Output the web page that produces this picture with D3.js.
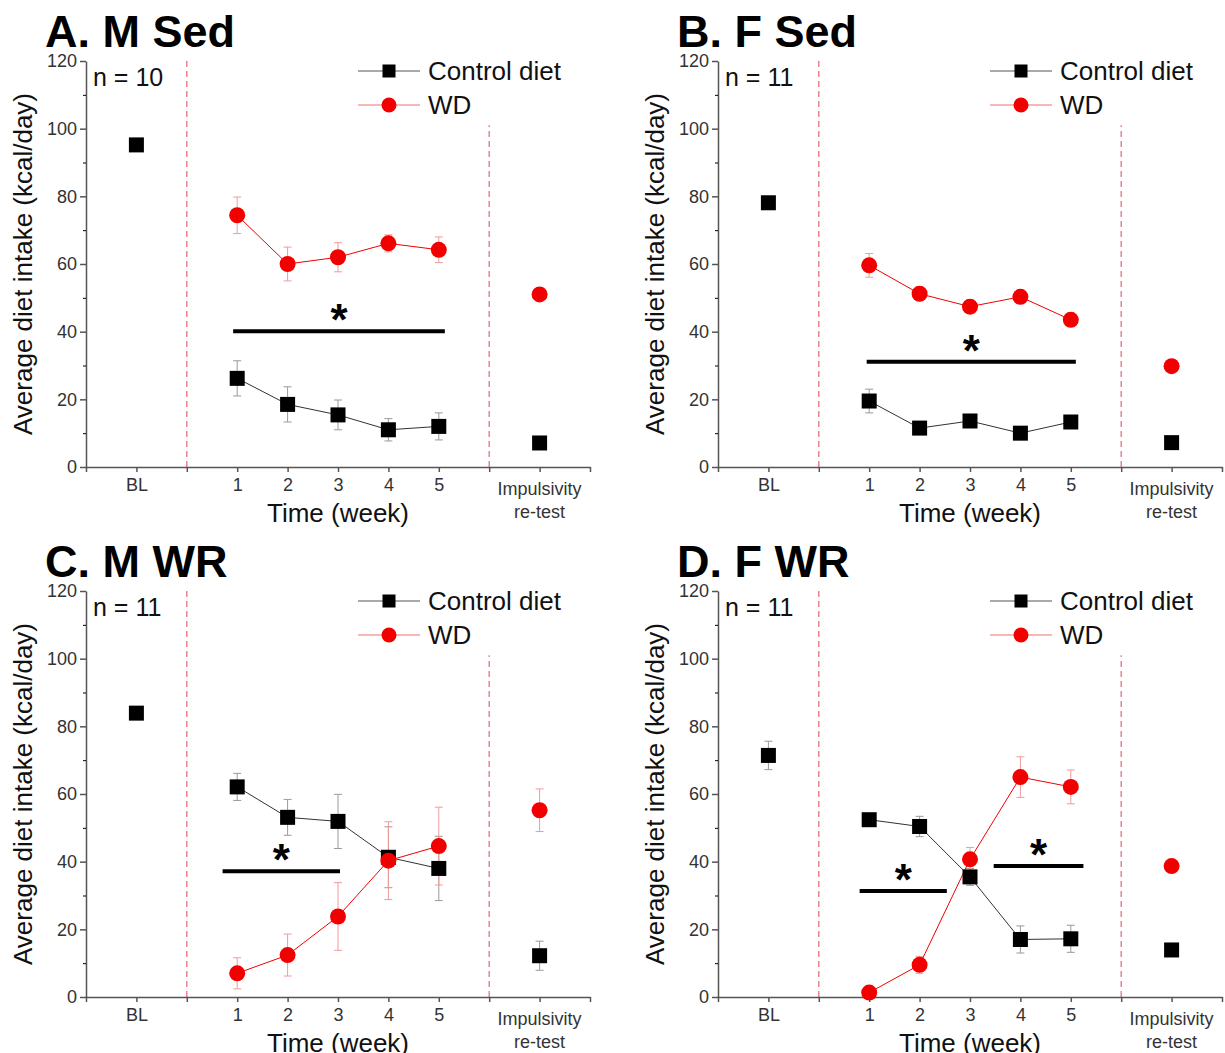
<!DOCTYPE html>
<html>
<head>
<meta charset="utf-8">
<title>Diet intake</title>
<script src="https://cdn.jsdelivr.net/npm/d3@7"></script>
<style>
  body { margin: 0; background: #fff; }
  text { font-family: "Liberation Sans", Arial, sans-serif; }
</style>
</head>
<body>
<script>
// panel titles and group sizes
var panelTitles = ["A. M Sed", "B. F Sed", "C. M WR", "D. F WR"];
var panelN = [10, 11, 11, 11];

// x positions: BL=-1, weeks 1..5, re-test=7
var weeks = [1, 2, 3, 4, 5];
var xTickLabels = {"-1": "BL", "1": "1", "2": "2", "3": "3", "4": "4", "5": "5"};
var retestLabel = ["Impulsivity", "re-test"];

// control diet
var ctrlBL = [95.2, 78.1, 83.9, 71.4];
var ctrlBLErr = [1.5, 1.2, 1.5, 4.2];
var ctrlWeeks = [
  [26.2, 18.5, 15.4, 11.0, 12.0],
  [19.5, 11.5, 13.6, 10.0, 13.3],
  [62.1, 53.1, 51.9, 41.3, 38.0],
  [52.4, 50.4, 35.5, 17.0, 17.2]
];
var ctrlWeeksErr = [
  [5.2, 5.2, 4.4, 3.3, 4.0],
  [3.5, 1.5, 1.5, 1.5, 1.5],
  [4.0, 5.3, 8.0, 9.0, 9.5],
  [1.5, 3.0, 2.5, 4.0, 4.0]
];
var ctrlRetest = [7.1, 7.2, 12.2, 13.9];
var ctrlRetestErr = [1.0, 1.0, 4.3, 1.0];

// western diet
var wdWeeks = [
  [74.4, 60.0, 62.0, 66.1, 64.2],
  [59.6, 51.2, 47.4, 50.3, 43.5],
  [7.0, 12.4, 23.8, 40.3, 44.6],
  [1.3, 9.5, 40.7, 65.0, 62.1]
];
var wdWeeksErr = [
  [5.4, 5.0, 4.3, 2.5, 3.8],
  [3.5, 2.0, 2.0, 2.0, 2.0],
  [4.6, 6.2, 10.0, 11.5, 11.5],
  [1.0, 2.5, 3.5, 6.0, 5.0]
];
var wdRetest = [51.0, 29.8, 55.2, 38.7];
var wdRetestErr = [1.5, 1.5, 6.3, 1.5];

// significance bars: [from, to, level]
var sigBars = [
  [[0.92, 5.12, 40.1]],
  [[0.95, 5.10, 31.1]],
  [[0.71, 3.04, 37.2]],
  [[0.81, 2.54, 31.3], [3.47, 5.25, 38.7]]
];

var w = 1225, h = 1053,
    plotW = 504, plotH = 406,
    origins = [[86, 61], [718, 61], [86, 591], [718, 591]];

var svg = d3.select("body").append("svg")
  .attr("width", w).attr("height", h)
  .style("background", "#fff");

var red = "#f20000", pink = "#e8707e";

function errBars(g, x, y, pts, color) {
  var eb = g.append("g").attr("stroke", color).attr("stroke-width", 1).attr("fill", "none");
  pts.forEach(function(p) {
    var x0 = x(p[0]), yt = y(p[1] + p[2]), yb = y(p[1] - p[2]);
    eb.append("line").attr("x1", x0).attr("x2", x0).attr("y1", yt).attr("y2", yb);
    eb.append("line").attr("x1", x0 - 4).attr("x2", x0 + 4).attr("y1", yt).attr("y2", yt);
    eb.append("line").attr("x1", x0 - 4).attr("x2", x0 + 4).attr("y1", yb).attr("y2", yb);
  });
}

function drawPanel(i) {
  var ox = origins[i][0], oy = origins[i][1];
  var x = d3.scaleLinear().domain([-2, 8]).range([ox, ox + plotW]);
  var y = d3.scaleLinear().domain([0, 120]).range([oy + plotH, oy]);
  var g = svg.append("g");

  // dashed separators
  g.append("line").attr("x1", x(0)).attr("x2", x(0)).attr("y1", y(0)).attr("y2", y(120))
    .attr("stroke", pink).attr("stroke-width", 1.3).attr("stroke-dasharray", "6,4");
  g.append("line").attr("x1", x(6)).attr("x2", x(6)).attr("y1", y(0)).attr("y2", y(101))
    .attr("stroke", pink).attr("stroke-width", 1.3).attr("stroke-dasharray", "6,4");

  // axes
  var yAx = g.append("g").attr("transform", "translate(" + ox + ",0)")
    .call(d3.axisLeft(y).tickValues(d3.range(0, 121, 20)).tickSize(6).tickSizeOuter(0).tickPadding(3));
  g.append("g").attr("transform", "translate(" + ox + ",0)")
    .call(d3.axisLeft(y).tickValues(d3.range(10, 120, 20)).tickSize(3).tickFormat(""))
    .select(".domain").remove();
  var xAx = g.append("g").attr("transform", "translate(0," + (oy + plotH) + ")")
    .call(d3.axisBottom(x).tickValues(d3.range(-2, 9)).tickSize(5).tickSizeOuter(0).tickPadding(6)
      .tickFormat(function(d) { return xTickLabels[d] || ""; }));
  [yAx, xAx].forEach(function(a) {
    a.selectAll("path, line").attr("stroke", "#555").attr("stroke-width", 1.5);
    a.selectAll("text").attr("fill", "#333").style("font-size", "18px")
      .style("font-family", "'Liberation Sans', Arial, sans-serif");
  });
  var rt = g.append("text").attr("x", x(7)).attr("y", oy + plotH + 28)
    .attr("text-anchor", "middle").attr("fill", "#333").style("font-size", "18px");
  retestLabel.forEach(function(s, k) {
    rt.append("tspan").attr("x", x(7)).attr("dy", k ? 23 : 0).text(s);
  });

  // error bars
  var cPts = [[-1, ctrlBL[i], ctrlBLErr[i]], [7, ctrlRetest[i], ctrlRetestErr[i]]];
  var rPts = [[7, wdRetest[i], wdRetestErr[i]]];
  weeks.forEach(function(wk, k) {
    cPts.push([wk, ctrlWeeks[i][k], ctrlWeeksErr[i][k]]);
    rPts.push([wk, wdWeeks[i][k], wdWeeksErr[i][k]]);
  });
  errBars(g, x, y, cPts, "#9a9a9a");
  errBars(g, x, y, rPts, "#f29a9a");

  // connecting lines
  var line = d3.line().x(function(d, k) { return x(weeks[k]); }).y(function(d) { return y(d); });
  g.append("path").datum(ctrlWeeks[i]).attr("d", line)
    .attr("fill", "none").attr("stroke", "#333").attr("stroke-width", 1);
  g.append("path").datum(wdWeeks[i]).attr("d", line)
    .attr("fill", "none").attr("stroke", red).attr("stroke-width", 1);

  // markers
  var sq = [[-1, ctrlBL[i]], [7, ctrlRetest[i]]];
  weeks.forEach(function(wk, k) { sq.push([wk, ctrlWeeks[i][k]]); });
  g.selectAll("rect.ctrl").data(sq).enter().append("rect")
    .attr("x", function(d) { return x(d[0]) - 7.5; })
    .attr("y", function(d) { return y(d[1]) - 7.5; })
    .attr("width", 15).attr("height", 15).attr("fill", "#000");
  var ci = [[7, wdRetest[i]]];
  weeks.forEach(function(wk, k) { ci.push([wk, wdWeeks[i][k]]); });
  g.selectAll("circle.wd").data(ci).enter().append("circle")
    .attr("cx", function(d) { return x(d[0]); })
    .attr("cy", function(d) { return y(d[1]); })
    .attr("r", 8).attr("fill", red);

  // significance bars
  sigBars[i].forEach(function(b) {
    g.append("line").attr("x1", x(b[0])).attr("x2", x(b[1]))
      .attr("y1", y(b[2])).attr("y2", y(b[2]))
      .attr("stroke", "#000").attr("stroke-width", 4);
    g.append("text").attr("x", x((b[0] + b[1]) / 2)).attr("y", y(b[2]) + 4)
      .attr("text-anchor", "middle").style("font-size", "44px").style("font-weight", "bold")
      .text("*");
  });

  // legend
  var lx = ox + 272;
  g.append("line").attr("x1", lx).attr("x2", lx + 62).attr("y1", oy + 10).attr("y2", oy + 10)
    .attr("stroke", "#555").attr("stroke-width", 1);
  g.append("rect").attr("x", lx + 31 - 6.5).attr("y", oy + 10 - 6.5)
    .attr("width", 13).attr("height", 13).attr("fill", "#000");
  g.append("text").attr("x", ox + 342).attr("y", oy + 19).style("font-size", "26px")
    .attr("fill", "#111").text("Control diet");
  g.append("line").attr("x1", lx).attr("x2", lx + 62).attr("y1", oy + 44).attr("y2", oy + 44)
    .attr("stroke", "#f07070").attr("stroke-width", 1);
  g.append("circle").attr("cx", lx + 31).attr("cy", oy + 44).attr("r", 7.5).attr("fill", red);
  g.append("text").attr("x", ox + 342).attr("y", oy + 53).style("font-size", "26px")
    .attr("fill", "#111").text("WD");

  // texts
  g.append("text").attr("x", ox + 7).attr("y", oy + 25).style("font-size", "25px")
    .attr("fill", "#111").text("n = " + panelN[i]);
  g.append("text").attr("x", ox - 41).attr("y", oy - 14).style("font-size", "45px")
    .style("font-weight", "bold").attr("fill", "#000").text(panelTitles[i]);
  g.append("text").attr("transform", "translate(" + (ox - 54) + "," + (oy + plotH / 2) + ") rotate(-90)")
    .attr("text-anchor", "middle").style("font-size", "26px").attr("fill", "#111")
    .text("Average diet intake (kcal/day)");
  g.append("text").attr("x", x(3)).attr("y", oy + 461).attr("text-anchor", "middle")
    .style("font-size", "26px").attr("fill", "#111").text("Time (week)");
}

for (var i = 0; i < 4; i++) drawPanel(i);
</script>
</body>
</html>
